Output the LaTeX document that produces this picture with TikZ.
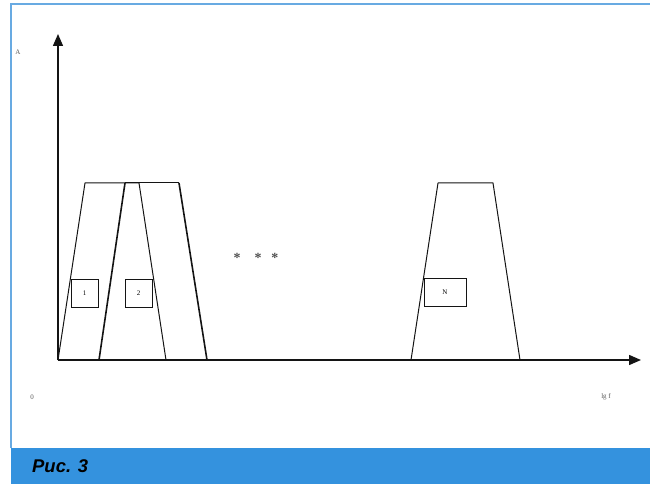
\documentclass[tikz,border=0pt]{standalone}
\usepackage{fontspec}
\setmainfont{Liberation Serif}
\newfontfamily\capfont{Liberation Sans}
\usepackage{tikz}
\usetikzlibrary{arrows.meta,positioning}
\definecolor{frameblue}{RGB}{104,170,226}
\definecolor{bandblue}{RGB}{52,146,222}
\definecolor{ink}{RGB}{20,20,20}
\tikzset{
  axis/.style={draw=ink, line width=1.4bp, -{Triangle[length=12bp,width=10bp]}},
  band/.style={draw=ink, line width=1bp, line join=round},
  bandthick/.style={draw=ink, line width=1.6bp},
  tag/.style={draw=ink, line width=0.8bp, minimum width=27bp, minimum height=28bp,
    inner sep=0pt, font=\fontsize{7}{8}\selectfont},
  lbl/.style={inner sep=0pt, font=\fontsize{7}{8}\selectfont, text=ink!70}
}
\begin{document}
\begin{tikzpicture}[x=1bp, y=-1bp]
\useasboundingbox (0,0) rectangle (650,484);
% frame and caption band
\fill[white] (0,0) rectangle (650,484);
\draw[frameblue, line width=1.5bp] (11,448) -- (11,4) -- (650,4);
\fill[bandblue] (11,448) rectangle (650,484);
\node[anchor=west, inner sep=0pt, font=\capfont\bfseries\itshape\fontsize{18.5}{20}\selectfont]
  (cap) at (32,466) {Рис. 3};
% axes
\coordinate (O) at (58,360);
\coordinate (ytop) at (58,34);
\coordinate (xend) at (641,360);
\draw[axis] (O) -- (ytop);
\draw[axis] (O) -- (xend);
\node[lbl] (alab) at (18,52) {A};
\node[lbl] (zero) at (32,397) {0};
\node[lbl] (flab) at (606,397) {lg f};
% channel 1
\draw[band] (58,360) -- (85,183) -- (139,183) -- (166,360);
% channel 2
\draw[bandthick] (99,360) -- (125,183);
\draw[bandthick] (179,183) -- (207,360);
\draw[band] (125,183) -- (179,183);
% channel N
\draw[band] (411,360) -- (438,183) -- (493,183) -- (520,360);
% channel labels
\node[tag] (t1) at (84.5,293) {1};
\node[tag] (t2) at (138.5,293) {2};
\node[tag, minimum width=42bp] (tN) at (445,292) {N};
% dots
\node[font=\bfseries\fontsize{14}{14}\selectfont, text=ink!75] (dots) at (256,258)
  {*\hspace{14bp}*\hspace{10bp}*};
\end{tikzpicture}
\end{document}
